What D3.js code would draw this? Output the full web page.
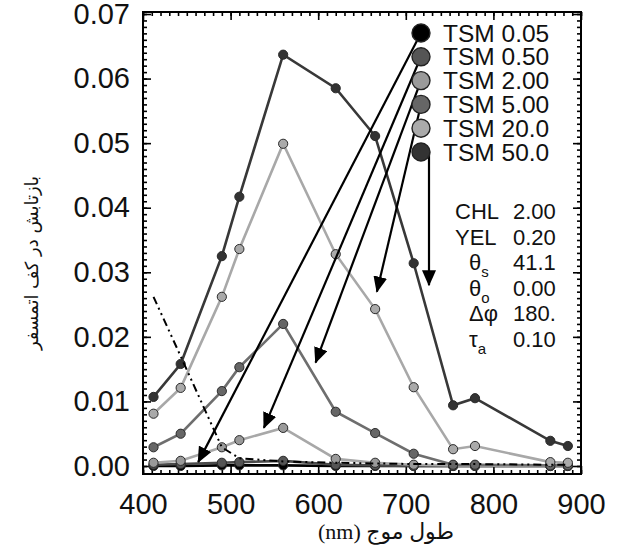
<!DOCTYPE html>
<html>
<head>
<meta charset="utf-8">
<script src="https://cdn.jsdelivr.net/npm/d3@7"></script>
<style>
  body { margin: 0; background: #fff; }
  svg { display: block; }
</style>
</head>
<body>
<div id="chart"></div>
<script>
// wavelengths (nm) of the sampled bands
const wavelengths = [412, 443, 490, 510, 560, 620, 665, 709, 754, 779, 865, 885];

// reflectance for each TSM level
const tsm005  = [0.0000, 0.0000, 0.0001, 0.0001, 0.0001, 0.0000, 0.0000, 0.0000, 0.0000, 0.0000, 0.0000, 0.0000];
const tsm050  = [0.0002, 0.0003, 0.0005, 0.0006, 0.0008, 0.0002, 0.0001, 0.0000, 0.0000, 0.0000, 0.0000, 0.0000];
const tsm200  = [0.0005, 0.0008, 0.0029, 0.0040, 0.0059, 0.0011, 0.0005, 0.0002, 0.0001, 0.0001, 0.0000, 0.0000];
const tsm500  = [0.0029, 0.0050, 0.0116, 0.0153, 0.0220, 0.0084, 0.0051, 0.0019, 0.0002, 0.0002, 0.0001, 0.0001];
const tsm2000 = [0.0081, 0.0121, 0.0262, 0.0336, 0.0499, 0.0328, 0.0243, 0.0122, 0.0026, 0.0031, 0.0006, 0.0005];
const tsm5000 = [0.0107, 0.0158, 0.0325, 0.0417, 0.0637, 0.0585, 0.0511, 0.0314, 0.0094, 0.0105, 0.0039, 0.0031];

// dash-dot reference curve
const dashRef = [0.0262, 0.0170, 0.0029, 0.0012, 0.0007, 0.0005, 0.0004, 0.0003, 0.0003, 0.0003, 0.0002, 0.0002];

const seriesNames = ["TSM 0.05", "TSM 0.50", "TSM 2.00", "TSM 5.00", "TSM 20.0", "TSM 50.0"];
const seriesValues = [tsm005, tsm050, tsm200, tsm500, tsm2000, tsm5000];
const lineColors = ["#000000", "#4a4a4a", "#a8a8a8", "#6e6e6e", "#a8a8a8", "#383838"];
const dotColors  = ["#000000", "#555555", "#9a9a9a", "#666666", "#aaaaaa", "#333333"];

// arrow targets (wavelength, reflectance); the TSM 50.0 arrow drops straight down
const arrowSeries = [0, 1, 2, 3, 5];
const arrowEndX = [463, 538, 597, 667, 729];
const arrowEndY = [0.0006, 0.0059, 0.0160, 0.0270, 0.0280];

const paramLabels = ["CHL", "YEL", "θ", "θ", "Δφ", "τ"];
const paramSubs   = ["", "", "s", "o", "", "a"];
const paramValues = ["2.00", "0.20", "41.1", "0.00", "180.", "0.10"];

const xTicks = [400, 500, 600, 700, 800, 900];
const yTicks = [0, 0.01, 0.02, 0.03, 0.04, 0.05, 0.06, 0.07];

const W = 617, H = 549;
const margin = {top: 12, right: 36, bottom: 75, left: 143};
const width = W - margin.left - margin.right;
const height = H - margin.top - margin.bottom;

const svg = d3.select("#chart").append("svg")
    .attr("width", W)
    .attr("height", H);

const defs = svg.append("defs");
defs.append("clipPath").attr("id", "plotclip")
    .append("rect").attr("width", width).attr("height", height);
defs.append("marker")
    .attr("id", "head")
    .attr("markerUnits", "userSpaceOnUse")
    .attr("markerWidth", 16).attr("markerHeight", 14)
    .attr("refX", 15).attr("refY", 7)
    .attr("orient", "auto")
    .append("path").attr("d", "M0,0 L16,7 L0,14 Z").attr("fill", "#000");

const g = svg.append("g")
    .attr("transform", "translate(" + margin.left + "," + margin.top + ")");

const x = d3.scaleLinear().domain([400, 900]).range([0, width]);
// y axis runs a little below zero and just above 0.07
const y = d3.scaleLinear().domain([0, 0.07]).range([height - 8, 2]);

// axes, ticks pointing inward on all four sides
function styleAxis(sel) {
    sel.select(".domain").remove();
    sel.selectAll(".tick line").attr("stroke", "#000").attr("stroke-width", 1.6);
    sel.selectAll(".tick text")
        .attr("font-family", "Liberation Sans, Arial, sans-serif")
        .attr("font-size", 29).attr("fill", "#111");
}

const minorX = d3.range(400, 901, 10);
const minorY = d3.range(0, 71).map(d => d / 1000);

g.append("g").attr("transform", "translate(0," + height + ")")
    .call(d3.axisBottom(x).tickValues(xTicks).tickSize(-8).tickPadding(19))
    .call(styleAxis);
g.append("g").attr("transform", "translate(0," + height + ")")
    .call(d3.axisBottom(x).tickValues(minorX).tickSize(-4).tickFormat(""))
    .call(styleAxis);
g.append("g")
    .call(d3.axisTop(x).tickValues(xTicks).tickSize(-8).tickFormat(""))
    .call(styleAxis);
g.append("g")
    .call(d3.axisTop(x).tickValues(minorX).tickSize(-4).tickFormat(""))
    .call(styleAxis);

g.append("g")
    .call(d3.axisLeft(y).tickValues(yTicks).tickSize(-8).tickPadding(13).tickFormat(d3.format(".2f")))
    .call(styleAxis);
g.append("g")
    .call(d3.axisLeft(y).tickValues(minorY).tickSize(-4).tickFormat(""))
    .call(styleAxis);
g.append("g").attr("transform", "translate(" + width + ",0)")
    .call(d3.axisRight(y).tickValues(yTicks).tickSize(-8).tickFormat(""))
    .call(styleAxis);
g.append("g").attr("transform", "translate(" + width + ",0)")
    .call(d3.axisRight(y).tickValues(minorY).tickSize(-4).tickFormat(""))
    .call(styleAxis);

// curves
const plot = g.append("g").attr("clip-path", "url(#plotclip)");
const line = d3.line().x((d, i) => x(wavelengths[i])).y(d => y(d));

seriesValues.forEach(function (vals, s) {
    plot.append("path")
        .datum(vals)
        .attr("d", line)
        .attr("fill", "none")
        .attr("stroke", lineColors[s])
        .attr("stroke-width", 2.6);
    plot.append("g")
        .selectAll("circle")
        .data(vals)
        .enter()
        .append("circle")
        .attr("cx", (d, i) => x(wavelengths[i]))
        .attr("cy", d => y(d))
        .attr("r", 4.6)
        .attr("fill", dotColors[s])
        .attr("stroke", "#2a2a2a")
        .attr("stroke-width", 1);
});

plot.append("path")
    .datum(dashRef)
    .attr("d", line)
    .attr("fill", "none")
    .attr("stroke", "#000")
    .attr("stroke-width", 2)
    .attr("stroke-dasharray", "8,4,2,4,2,4");

// frame
g.append("rect")
    .attr("width", width).attr("height", height)
    .attr("fill", "none").attr("stroke", "#000").attr("stroke-width", 2);

// legend
const legX = 421 - margin.left, legY0 = 33 - margin.top, legStep = 23.8;
const legend = g.append("g");

// arrows from legend dots to curves
arrowSeries.forEach(function (s, k) {
    const sx = legX + (s === 5 ? 8 : 0);
    const sy = legY0 + s * legStep;
    const ex = s === 5 ? sx : x(arrowEndX[k]);
    legend.append("line")
        .attr("x1", sx).attr("y1", sy)
        .attr("x2", ex).attr("y2", y(arrowEndY[k]))
        .attr("stroke", "#000").attr("stroke-width", 2.2)
        .attr("marker-end", "url(#head)");
});

seriesNames.forEach(function (name, s) {
    const cy = legY0 + s * legStep;
    legend.append("circle")
        .attr("cx", legX).attr("cy", cy).attr("r", 9)
        .attr("fill", dotColors[s]).attr("stroke", "#222").attr("stroke-width", 1.4);
    legend.append("text")
        .attr("x", legX + 22).attr("y", cy + 8.5)
        .attr("font-family", "Liberation Sans, Arial, sans-serif")
        .attr("font-size", 24.5).attr("fill", "#111")
        .text(name);
});

// parameter block
const parY0 = 219 - margin.top, parStep = 25.6;
paramLabels.forEach(function (lab, i) {
    const t = g.append("text")
        .attr("x", (paramSubs[i] || lab === "Δφ" ? 469 : 455) - margin.left)
        .attr("y", parY0 + i * parStep)
        .attr("font-family", "Liberation Sans, Arial, sans-serif")
        .attr("font-size", 22).attr("fill", "#111");
    t.append("tspan").text(lab);
    if (paramSubs[i]) {
        t.append("tspan").attr("dy", 7).attr("font-size", 15).text(paramSubs[i]);
    }
    g.append("text")
        .attr("x", 513 - margin.left)
        .attr("y", parY0 + i * parStep)
        .attr("font-family", "Liberation Sans, Arial, sans-serif")
        .attr("font-size", 22).attr("fill", "#111")
        .text(paramValues[i]);
});

// axis titles
svg.append("text")
    .attr("x", 386).attr("y", 539)
    .attr("text-anchor", "middle")
    .attr("direction", "rtl")
    .attr("font-family", "Liberation Serif, DejaVu Sans, serif")
    .attr("font-size", 22).attr("fill", "#111")
    .text("طول موج (nm)");

svg.append("text")
    .attr("transform", "translate(38,263) rotate(-90)")
    .attr("text-anchor", "middle")
    .attr("direction", "rtl")
    .attr("font-family", "DejaVu Sans, sans-serif")
    .attr("font-size", 18).attr("fill", "#111")
    .text("بازتابش در کف اتمسفر");
</script>
</body>
</html>
